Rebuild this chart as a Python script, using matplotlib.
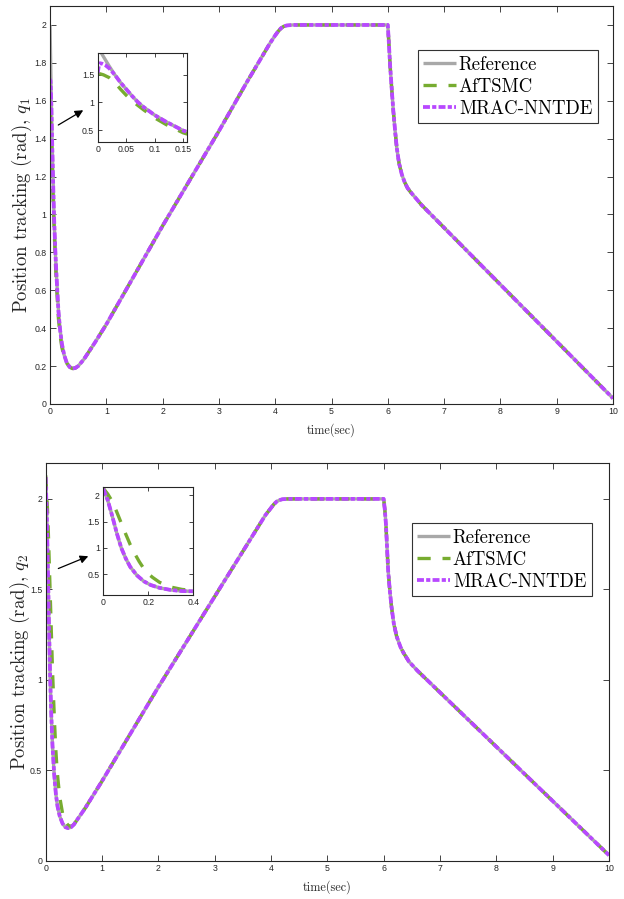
import numpy as np
import matplotlib
matplotlib.use("Agg")
import matplotlib.pyplot as plt

plt.rcParams['mathtext.fontset'] = 'cm'
plt.rcParams['lines.scale_dashes'] = False

# ---------------- data : joint 1 ----------------
t1_ref_start = [0.0, 0.003, 0.006, 0.01, 0.02, 0.03]
q1_ref_start = [2.00, 1.96, 1.90, 1.83, 1.66, 1.50]
t1_mr_start = [0.0, 0.002, 0.004, 0.008, 0.014, 0.02, 0.025, 0.03]
q1_mr_start = [1.53, 1.66, 1.71, 1.70, 1.67, 1.62, 1.56, 1.50]
t1_af_start = [0.0, 0.01, 0.02, 0.03, 0.04, 0.05, 0.06, 0.07, 0.08, 0.10,
               0.12, 0.15, 0.18, 0.21, 0.25, 0.30]
q1_af_start = [1.53, 1.50, 1.45, 1.36, 1.24, 1.13, 1.03, 0.95, 0.87, 0.72,
               0.60, 0.45, 0.36, 0.30, 0.25, 0.215]
t1_common = [0.04, 0.05, 0.06, 0.07, 0.08, 0.10, 0.12, 0.15, 0.18, 0.21, 0.25,
             0.30, 0.35, 0.40, 0.45, 0.50, 0.60, 0.70, 0.80, 1.00, 1.50, 2.00,
             2.50, 3.00, 3.50, 3.80, 3.90, 4.00, 4.05, 4.10, 4.15, 4.20, 4.30,
             4.50, 5.00, 5.50, 6.00, 6.02, 6.04, 6.07, 6.10, 6.13, 6.16, 6.20,
             6.25, 6.30, 6.35, 6.40, 6.50, 6.60, 6.70, 6.80, 7.00, 8.00, 9.00,
             10.0]
q1_common = [1.36, 1.24, 1.12, 1.01, 0.92, 0.77, 0.65, 0.49, 0.39, 0.32, 0.26,
             0.215, 0.195, 0.187, 0.19, 0.20, 0.235, 0.28, 0.325, 0.42, 0.68,
             0.94, 1.19, 1.44, 1.70, 1.85, 1.90, 1.945, 1.965, 1.982, 1.992,
             1.997, 2.0, 2.0, 2.0, 2.0, 2.0, 1.90, 1.79, 1.66, 1.54, 1.44, 1.35,
             1.27, 1.21, 1.17, 1.14, 1.12, 1.085, 1.05, 1.02, 0.99, 0.93, 0.63,
             0.33, 0.03]

# ---------------- data : joint 2 ----------------
t2_ref = [0.0, 0.02, 0.04, 0.06, 0.08, 0.10, 0.12, 0.15, 0.18, 0.21, 0.25,
          0.30, 0.35, 0.40, 0.45, 0.50, 0.60, 0.70, 0.80, 1.00, 1.50, 2.00,
          2.50, 3.00, 3.50, 3.80, 3.90, 4.00, 4.05, 4.10, 4.15, 4.20, 4.30,
          4.50, 5.00, 5.50, 6.00, 6.02, 6.04, 6.06, 6.08, 6.11, 6.14, 6.18,
          6.23, 6.30, 6.35, 6.45, 6.60, 6.80, 7.00, 8.00, 9.00, 10.0]
q2_ref = [2.12, 1.90, 1.60, 1.28, 1.00, 0.80, 0.64, 0.48, 0.37, 0.30, 0.245,
          0.205, 0.185, 0.18, 0.185, 0.20, 0.245, 0.29, 0.34, 0.44, 0.70, 0.96,
          1.21, 1.46, 1.71, 1.86, 1.91, 1.95, 1.97, 1.985, 1.993, 1.998, 2.0,
          2.0, 2.0, 2.0, 2.0, 1.94, 1.86, 1.73, 1.60, 1.49, 1.40, 1.31, 1.24,
          1.18, 1.15, 1.10, 1.05, 0.99, 0.93, 0.63, 0.33, 0.03]
t2_af_start = [0.0, 0.02, 0.04, 0.06, 0.08, 0.10, 0.12, 0.14, 0.16, 0.18,
               0.20, 0.22, 0.25, 0.30, 0.35, 0.40, 0.45]
q2_af_start = [2.13, 2.02, 1.88, 1.68, 1.47, 1.26, 1.06, 0.89, 0.74, 0.61,
               0.51, 0.44, 0.35, 0.26, 0.215, 0.195, 0.19]
q2_mrac = list(q2_ref)

legend_labels = ['Reference', 'AfTSMC', 'MRAC-NNTDE']
x_ticks = list(range(0, 11))
y1_ticks = [0, 0.2, 0.4, 0.6, 0.8, 1.0, 1.2, 1.4, 1.6, 1.8, 2.0]
y2_ticks = [0, 0.5, 1.0, 1.5, 2.0]
in1_xticks = [0, 0.05, 0.1, 0.15]
in1_yticks = [0.5, 1.0, 1.5]
in2_xticks = [0, 0.2, 0.4]
in2_yticks = [0.5, 1.0, 1.5, 2.0]

# ---------------- build series ----------------
tc = np.array(t1_common); qc = np.array(q1_common)
def join(ts, qs, tail_from):
    m = tc > tail_from
    return np.concatenate([ts, tc[m]]), np.concatenate([qs, qc[m]])
ref1 = join(t1_ref_start, q1_ref_start, max(t1_ref_start))
mr1 = join(t1_mr_start, q1_mr_start, max(t1_mr_start))
af1 = join(t1_af_start, q1_af_start, max(t1_af_start))

t2r = np.array(t2_ref); q2r = np.array(q2_ref)
m2 = t2r > max(t2_af_start)
ref2 = (t2r, q2r)
af2 = (np.concatenate([t2_af_start, t2r[m2]]), np.concatenate([q2_af_start, q2r[m2]]))
mr2 = (t2r, np.array(q2_mrac))

# ---------------- styles ----------------
C_REF = '#A8A8A8'
C_AF = '#77AC30'
C_MR = '#B848FF'
TXT = '#262626'
tickfont = 'Liberation Sans'
serif = 'cmr10'

def draw(ax, ref, af, mr, lw=2.4):
    ax.plot(*ref, color=C_REF, lw=lw, solid_capstyle='butt', label=legend_labels[0])
    ax.plot(*af, color=C_AF, lw=lw, dashes=(9.5, 8.5), label=legend_labels[1])
    ax.plot(*mr, color=C_MR, lw=lw + 0.3, dashes=(5.0, 1.6, 3.0, 1.6), label=legend_labels[2])

def style(ax, small=False):
    for s in ax.spines.values():
        s.set_color(TXT)
        s.set_linewidth(0.8)
    ax.tick_params(direction='in', top=True, right=True, length=3.0 if small else 4.0,
                   width=0.6, labelsize=6.3, labelcolor=TXT, color=TXT, pad=2.5)
    for lab in ax.get_xticklabels() + ax.get_yticklabels():
        lab.set_fontfamily(tickfont)

def fmt(v):
    return '%g' % v

fig = plt.figure(figsize=(6.24, 8.99), dpi=100)
W, H = 624.0, 899.0

def fig_rect(x0, y0, x1, y1):
    return [x0 / W, 1 - y1 / H, (x1 - x0) / W, (y1 - y0) / H]

def make_legend(ax, corner):
    leg = ax.legend(loc='upper right', bbox_to_anchor=corner,
                    bbox_transform=fig.transFigure, borderaxespad=0,
                    prop={'family': serif, 'size': 13.5}, handlelength=1.75,
                    handletextpad=0.15, labelspacing=0.22, borderpad=0.3,
                    fancybox=False, framealpha=1, edgecolor='#333333')
    leg.get_frame().set_linewidth(0.8)
    return leg

# -------- top panel --------
ax1 = fig.add_axes(fig_rect(50, 6, 613, 404))
draw(ax1, ref1, af1, mr1)
ax1.set_xlim(0, 10); ax1.set_ylim(0, 2.1)
ax1.set_xticks(x_ticks); ax1.set_xticklabels([fmt(v) for v in x_ticks])
ax1.set_yticks(y1_ticks); ax1.set_yticklabels([fmt(v) for v in y1_ticks])
style(ax1)
ax1.set_xlabel('time(sec)', fontfamily=serif, fontsize=8.8, color=TXT, labelpad=5)
ax1.set_ylabel(r'Position tracking (rad), $q_1$', fontfamily=serif, fontsize=13.5,
               color=TXT)
ax1.yaxis.set_label_coords(-0.029, 0.5)
make_legend(ax1, (598 / W, 1 - 50 / H))
ax1.annotate('', xy=(0.59, 1.55), xytext=(0.147, 1.472),
             arrowprops=dict(arrowstyle='-|>', color='black', lw=0.9,
                             mutation_scale=12, shrinkA=0, shrinkB=0))

in1 = fig.add_axes(fig_rect(97.7, 52.7, 186.7, 141.7))
draw(in1, ref1, af1, mr1)
in1.set_xlim(0, 0.156); in1.set_ylim(0.29, 1.9)
in1.set_xticks(in1_xticks); in1.set_xticklabels([fmt(v) for v in in1_xticks])
in1.set_yticks(in1_yticks); in1.set_yticklabels([fmt(v) for v in in1_yticks])
style(in1, small=True)

# -------- bottom panel --------
ax2 = fig.add_axes(fig_rect(45.7, 462.7, 609, 860.7))
draw(ax2, ref2, af2, mr2)
ax2.set_xlim(0, 10); ax2.set_ylim(0, 2.2)
ax2.set_xticks(x_ticks); ax2.set_xticklabels([fmt(v) for v in x_ticks])
ax2.set_yticks(y2_ticks); ax2.set_yticklabels([fmt(v) for v in y2_ticks])
style(ax2)
ax2.set_xlabel('time(sec)', fontfamily=serif, fontsize=8.8, color=TXT, labelpad=5)
ax2.set_ylabel(r'Position tracking (rad), $q_2$', fontfamily=serif, fontsize=13.5,
               color=TXT)
ax2.yaxis.set_label_coords(-0.025, 0.5)
make_legend(ax2, (592 / W, 1 - 523 / H))
ax2.annotate('', xy=(0.756, 1.683), xytext=(0.224, 1.615),
             arrowprops=dict(arrowstyle='-|>', color='black', lw=0.9,
                             mutation_scale=12, shrinkA=0, shrinkB=0))

in2 = fig.add_axes(fig_rect(103.3, 486.7, 193.3, 595))
draw(in2, ref2, af2, mr2)
in2.set_xlim(0, 0.4); in2.set_ylim(0.11, 2.16)
in2.set_xticks(in2_xticks); in2.set_xticklabels([fmt(v) for v in in2_xticks])
in2.set_yticks(in2_yticks); in2.set_yticklabels([fmt(v) for v in in2_yticks])
style(in2, small=True)

fig.savefig('out.png', dpi=100)
